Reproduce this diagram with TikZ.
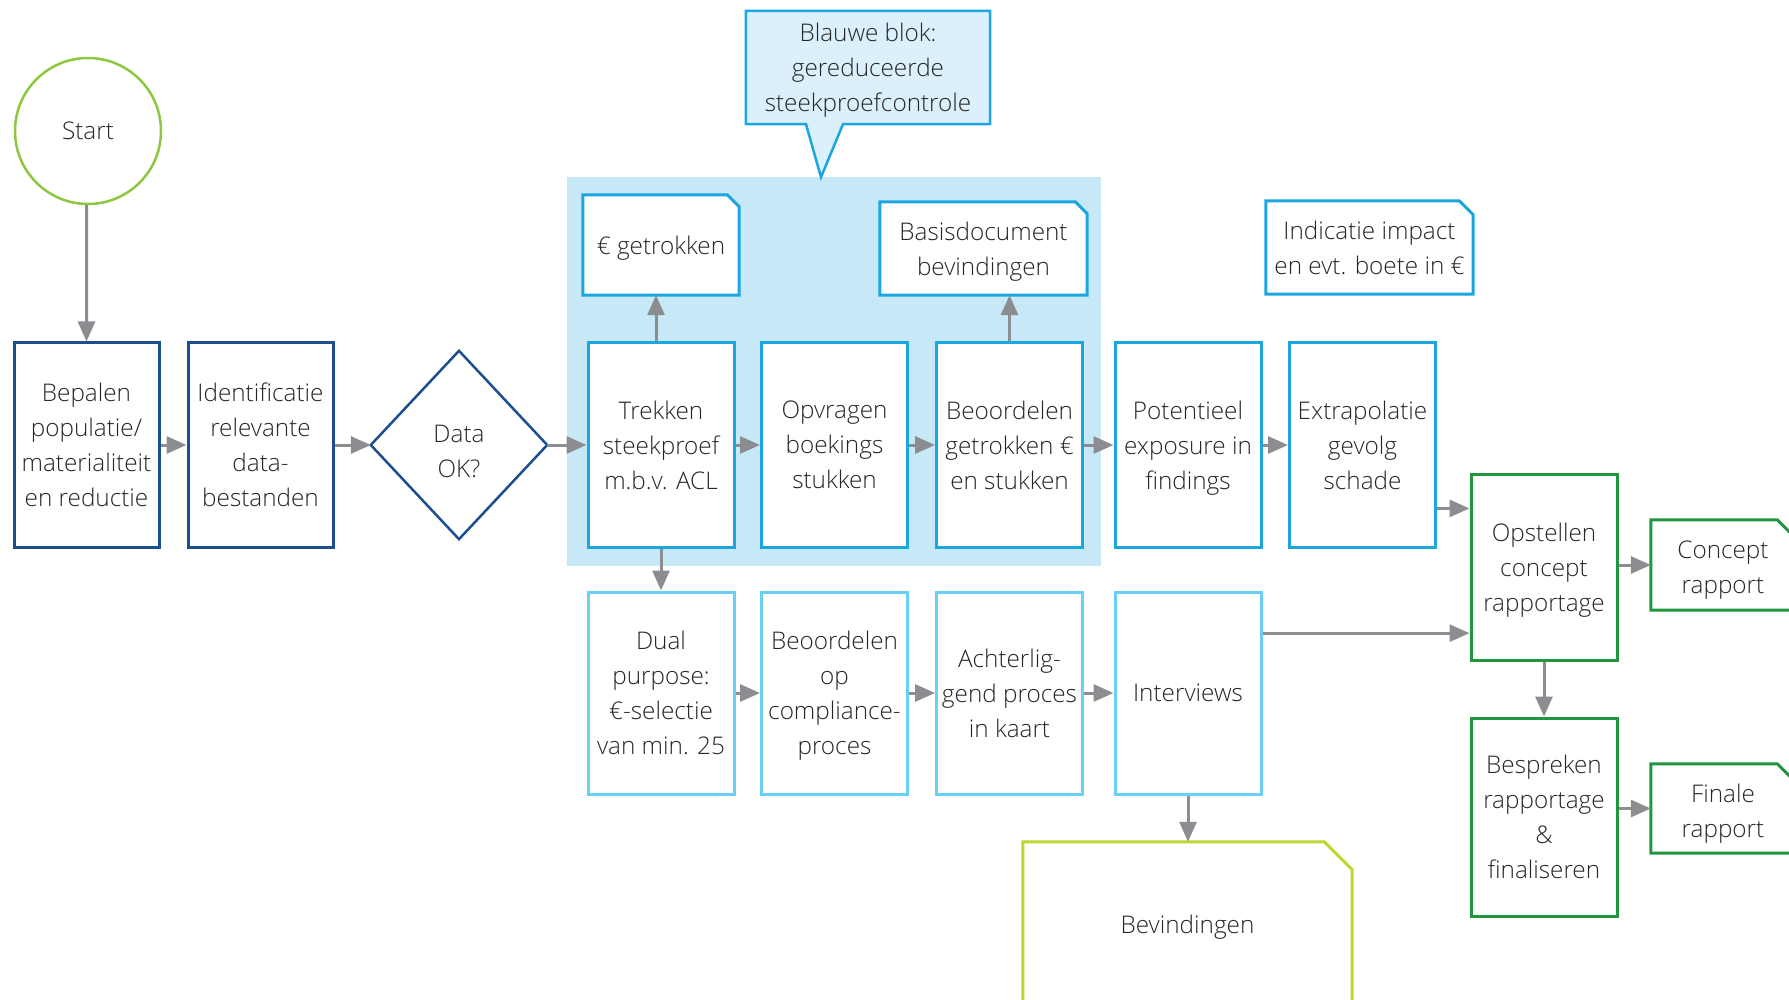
\documentclass[tikz,border=0pt]{standalone}
\usepackage{fontspec}
\setmainfont{Open Sans}[UprightFont=* Light]
\usetikzlibrary{arrows.meta,calc}
\definecolor{dkblue}{HTML}{1C4E92}
\definecolor{cyanb}{HTML}{1BA6E0}
\definecolor{ltcyan}{HTML}{6ACFF4}
\definecolor{blokfill}{HTML}{C6E8F7}
\definecolor{callfill}{HTML}{DBF0FA}
\definecolor{grn}{HTML}{22963F}
\definecolor{ltgrn}{HTML}{8DC63F}
\definecolor{ygrn}{HTML}{BFD630}
\definecolor{arrgray}{HTML}{8C8D90}
\definecolor{txt}{HTML}{262626}
\newcommand\docpath[3]{\draw[#1] (#2.south west) -- (#2.north west) -- ([xshift=-#3]#2.north east) -- ([yshift=-#3]#2.north east) -- (#2.south east) -- cycle;}
\begin{document}
\begin{tikzpicture}[x=1pt,y=-1pt,
  every node/.style={font=\fontsize{24.3}{35}\selectfont, text=txt, align=center, inner sep=0pt, text depth=0pt},
  dkbox/.style={draw=dkblue, line width=3pt, fill=white, minimum width=145pt, minimum height=204pt},
  cybox/.style={draw=cyanb, line width=3pt, fill=white, minimum width=146pt, minimum height=204pt},
  ltbox/.style={draw=ltcyan, line width=3pt, fill=white, minimum width=146pt, minimum height=202pt},
  gnbox/.style={draw=grn, line width=3pt, fill=white, minimum width=146pt},
  cydoc/.style={draw=cyanb, line width=3pt, fill=white, line join=miter},
  gndoc/.style={draw=grn, line width=3pt, fill=white},
  conn/.style={draw=arrgray, line width=3pt, -{Triangle[length=20pt,width=17pt]}}
]
\useasboundingbox (0,0) rectangle (1789,1000);
\clip (0,0) rectangle (1789,1000);

% blue block
\node[fill=blokfill, minimum width=534pt, minimum height=389pt] (blok) at (834,371.5) {};

% callout
\node[minimum width=244pt, minimum height=113pt] (callbox) at (868,67.5) {};
\draw[draw=cyanb, fill=callfill, line width=2.5pt] (callbox.north west) -- (callbox.north east) -- (callbox.south east) -- ([xshift=-25pt]callbox.south) -- ([xshift=-47pt,yshift=-53pt]callbox.south) -- ([xshift=-62pt]callbox.south) -- (callbox.south west) -- cycle;
\node (calltxt) at (callbox.center) {Blauwe blok:\\gereduceerde\\steekproefcontrole};

% start
\node[circle, draw=ltgrn, line width=2.5pt, minimum size=146pt] (start) at (88,131) {Start};

% first boxes
\node[dkbox] (bep) at (86.5,445) {Bepalen\\populatie/\\materialiteit\\en reductie};
\node[dkbox] (ident) at (260.5,445) {Identificatie\\relevante\\data-\\bestanden};
\node[minimum width=176pt, minimum height=188pt] (dia) at (459,445) {};
\draw[draw=dkblue, line width=2.5pt, fill=white] (dia.north) -- (dia.east) -- (dia.south) -- (dia.west) -- cycle;
\node (diatxt) at ([yshift=-6pt]dia.center) {Data\\OK?};

% row 1
\node[cybox] (trek) at (661,445) {Trekken\\steekproef\\m.b.v. ACL};
\node[cybox] (opvr) at (834.5,445) {Opvragen\\boekings\\stukken};
\node[cybox] (beo) at (1009.5,445) {Beoordelen\\getrokken €\\en stukken};
\node[cybox] (pot) at (1188,445) {Potentieel\\exposure in\\findings};
\node[cybox] (extra) at (1362.5,445) {Extrapolatie\\gevolg\\schade};

% row 2
\node[ltbox] (dual) at (661,693) {Dual\\purpose:\\€-selectie\\van min. 25};
\node[ltbox] (beoop) at (834.5,693) {Beoordelen\\op\\compliance-\\proces};
\node[ltbox] (acht) at (1009.5,693) {Achterlig-\\gend proces\\in kaart};
\node[ltbox] (intv) at (1188,693) {Interviews};

% documents
\node[minimum width=156pt, minimum height=100pt] (eur) at (661,245) {};
\docpath{cydoc}{eur}{12pt}
\node (eurtxt) at (eur.center) {€ getrokken};
\node[minimum width=207pt, minimum height=93pt] (basis) at (983.5,248.5) {};
\docpath{cydoc}{basis}{12pt}
\node (basistxt) at (basis.center) {Basisdocument\\bevindingen};
\node[minimum width=207pt, minimum height=93pt] (indic) at (1369.5,247.5) {};
\docpath{cydoc}{indic}{14pt}
\node (indictxt) at (indic.center) {Indicatie impact\\en evt. boete in €};
\node[minimum width=329pt, minimum height=164pt] (bev) at (1187.5,924) {};
\docpath{draw=ygrn, line width=3pt, fill=white}{bev}{28pt}
\node (bevtxt) at (bev.center) {Bevindingen};

% green
\node[gnbox, minimum height=186pt] (opst) at (1544,567) {Opstellen\\concept\\rapportage};
\node[gnbox, minimum height=198pt] (besp) at (1544,817) {Bespreken\\rapportage\\\&\\finaliseren};
\node[minimum width=144pt, minimum height=90pt] (conc) at (1723,565) {};
\docpath{gndoc}{conc}{18pt}
\node (conctxt) at ([yshift=-2pt]conc.center) {Concept\\rapport};
\node[minimum width=144pt, minimum height=89pt] (fin) at (1723,808.5) {};
\docpath{gndoc}{fin}{18pt}
\node (fintxt) at ([yshift=-2pt]fin.center) {Finale\\rapport};

% connectors
\draw[conn] (start) -- (bep.north |- start.south) -- (bep.north);
\draw[conn] (bep.east) -- (ident.west);
\draw[conn] (ident.east) -- (dia.west);
\draw[conn] (dia.east) -- (trek.west);
\draw[conn] (trek.east) -- (opvr.west);
\draw[conn] (opvr.east) -- (beo.west);
\draw[conn] (beo.east) -- (pot.west);
\draw[conn] (pot.east) -- (extra.west);
\draw[conn] ([xshift=-5pt]trek.north) -- ([xshift=-5pt]trek.north |- eur.south);
\draw[conn] (beo.north) -- (beo.north |- basis.south);
\draw[conn] (trek.south) -- (dual.north);
\draw[conn] (dual.east) -- (beoop.west);
\draw[conn] (beoop.east) -- (acht.west);
\draw[conn] (acht.east) -- (intv.west);
\draw[conn] (intv.south) -- (intv.south |- bev.north);
\coordinate (pa) at ($(opst.north west)!0.19!(opst.south west)$);
\coordinate (pb) at ($(opst.north west)!0.85!(opst.south west)$);
\draw[conn] (extra.east |- pa) -- (pa);
\draw[conn] (intv.east |- pb) -- (pb);
\draw[conn] (opst.east |- conc.west) -- (conc.west);
\draw[conn] (opst.south) -- (besp.north);
\draw[conn] (besp.east |- fin.west) -- (fin.west);
\end{tikzpicture}
\end{document}
